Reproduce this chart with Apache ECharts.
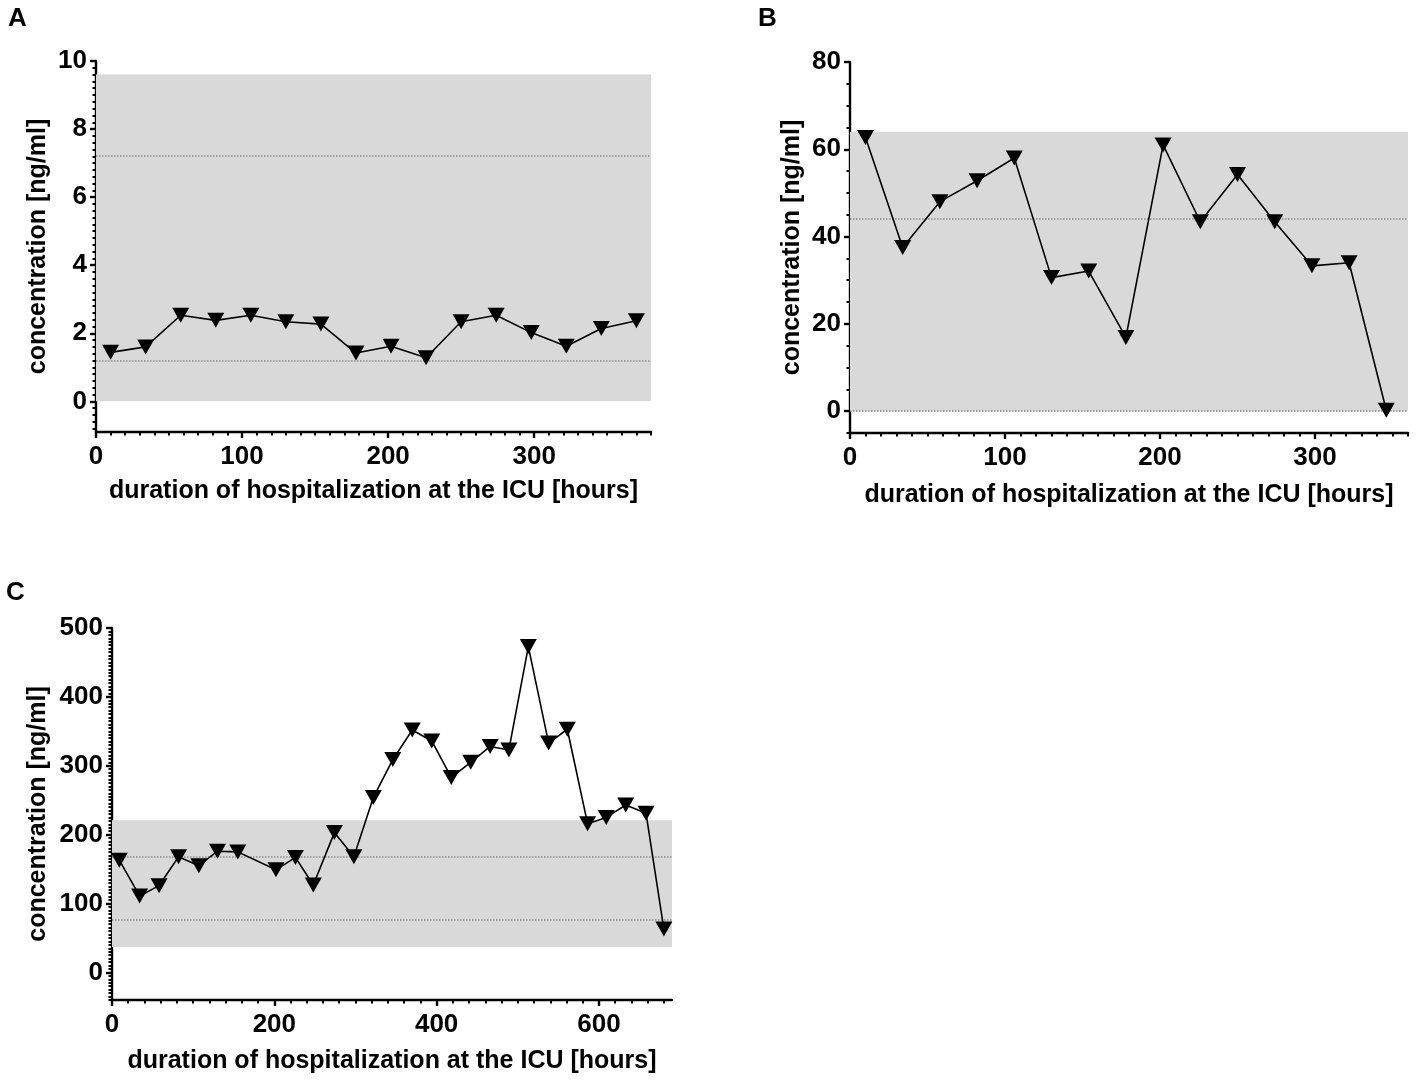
<!DOCTYPE html>
<html>
<head>
<meta charset="utf-8">
<script src="https://cdn.jsdelivr.net/npm/echarts@6/dist/echarts.min.js"></script>
<style>
  html, body { margin: 0; padding: 0; background: #fff; }
  #main { width: 1418px; height: 1083px; }
</style>
</head>
<body>
<div id="main"></div>
<script>
// ---- data ----
// panel A
var aHours = [10, 34, 58, 82, 106, 130, 154, 178, 202, 226, 250, 274, 298, 322, 346, 370];
var aConc  = [1.44, 1.6, 2.53, 2.38, 2.53, 2.34, 2.27, 1.42, 1.62, 1.28, 2.34, 2.53, 2.02, 1.62, 2.14, 2.37];
var aBand  = [0, 9.6];
var aRefLines = [7.22, 1.2];
var aXTicks = [0, 100, 200, 300];
var aYTicks = [0, 2, 4, 6, 8, 10];

// panel B
var bHours = [10, 34, 58, 82, 106, 130, 154, 178, 202, 226, 250, 274, 298, 322, 346];
var bConc  = [62.7, 37.5, 48.0, 52.8, 58.0, 30.6, 32.1, 16.9, 61.0, 43.4, 54.2, 43.4, 33.3, 34.0, 0.2];
var bBand  = [0, 64];
var bRefLines = [44, 0];
var bXTicks = [0, 100, 200, 300];
var bYTicks = [0, 20, 40, 60, 80];

// panel C
var cHours = [9, 34, 58, 82, 107, 130, 155, 202, 226, 248, 274, 298, 322, 346, 370, 394, 418, 442, 466, 489, 513, 538, 561, 586, 609, 633, 658, 680];
var cConc  = [163, 111, 126, 168, 155, 176, 175, 149, 167, 127, 203, 168, 254, 309, 352, 336, 283, 305, 328, 323, 473, 333, 353, 216, 225, 243, 231, 63];
var cBand  = [37, 221];
var cRefLines = [168.5, 76];
var cXTicks = [0, 200, 400, 600];
var cYTicks = [0, 100, 200, 300, 400, 500];

var xTitle = 'duration of hospitalization at the ICU [hours]';
var yTitle = 'concentration [ng/ml]';

// ---- layout ----
var FONT = '"Liberation Sans", Arial, sans-serif';
var panels = [
  {letter: 'A', lx: 8,   ly: 6,   rect: {left: 96,  top: 61,  width: 555, height: 371},
   xs: aHours, ys: aConc, band: aBand, refs: aRefLines, xt: aXTicks, yt: aYTicks,
   xmin: 0, xmax: 380, xminor: 10, ymin: -0.9, ymax: 10, yminor: 0.2, ynameGap: 45, xnameGap: 47},
  {letter: 'B', lx: 758, ly: 6,   rect: {left: 850, top: 62,  width: 558, height: 371},
   xs: bHours, ys: bConc, band: bBand, refs: bRefLines, xt: bXTicks, yt: bYTicks,
   xmin: 0, xmax: 360, xminor: 10, ymin: -5, ymax: 80, yminor: 5, ynameGap: 45, xnameGap: 50},
  {letter: 'C', lx: 6,   ly: 580, rect: {left: 112, top: 628, width: 560, height: 372},
   xs: cHours, ys: cConc, band: cBand, refs: cRefLines, xt: cXTicks, yt: cYTicks,
   xmin: 0, xmax: 690, xminor: 20, ymin: -40, ymax: 500, yminor: 5, ynameGap: 61, xnameGap: 49}
];

function minorValues(min, max, step) {
  var out = [];
  var start = Math.ceil(min / step) * step;
  for (var v = start; v <= max + 1e-9; v += step) {
    out.push(Math.round(v * 1000) / 1000);
  }
  return out;
}

var grid = [], xAxis = [], yAxis = [], series = [], title = [];
var n = panels.length;

panels.forEach(function (p, i) {
  grid.push(Object.assign({}, p.rect));
  title.push({text: p.letter, left: p.lx, top: p.ly, padding: 0,
    textStyle: {fontFamily: FONT, fontWeight: 'bold', fontSize: 26, color: '#000'}});

  xAxis.push({
    type: 'value', gridIndex: i, min: p.xmin, max: p.xmax,
    name: xTitle, nameLocation: 'middle', nameGap: p.xnameGap,
    nameTextStyle: {fontFamily: FONT, fontWeight: 'bold', fontSize: 25, color: '#000'},
    axisLine: {show: true, onZero: false, lineStyle: {color: '#000', width: 2.4}},
    axisTick: {show: true, customValues: p.xt, length: 6, lineStyle: {color: '#000', width: 2.4}},
    axisLabel: {customValues: p.xt, margin: 12, fontFamily: FONT, fontWeight: 'bold', fontSize: 26, color: '#000'},
    splitLine: {show: false}
  });
  yAxis.push({
    type: 'value', gridIndex: i, min: p.ymin, max: p.ymax,
    name: yTitle, nameLocation: 'middle', nameGap: p.ynameGap,
    nameTextStyle: {fontFamily: FONT, fontWeight: 'bold', fontSize: 25, color: '#000'},
    axisLine: {show: true, onZero: false, lineStyle: {color: '#000', width: 2.4}},
    axisTick: {show: true, customValues: p.yt, length: 6, lineStyle: {color: '#000', width: 2.4}},
    axisLabel: {customValues: p.yt, margin: 9, fontFamily: FONT, fontWeight: 'bold', fontSize: 26, color: '#000'},
    splitLine: {show: false}
  });

  var pts = p.xs.map(function (x, k) { return [x, p.ys[k]]; });
  series.push({
    type: 'line', xAxisIndex: i, yAxisIndex: i, data: pts,
    symbol: 'path://M0 0 L16 0 L8 14 Z', symbolSize: [17, 15], symbolKeepAspect: false,
    itemStyle: {color: '#000'},
    lineStyle: {color: '#000', width: 1.6},
    z: 5,
    markArea: {
      silent: true,
      itemStyle: {color: '#d9d9d9'},
      data: [[{yAxis: p.band[0]}, {yAxis: p.band[1]}]]
    },
    markLine: {
      silent: true, symbol: ['none', 'none'], label: {show: false},
      lineStyle: {color: '#8c8c8c', type: 'dotted', width: 1.5},
      data: p.refs.map(function (v) { return {yAxis: v}; })
    }
  });
});

// overlay grids carrying the minor ticks
panels.forEach(function (p, i) {
  grid.push(Object.assign({}, p.rect));
  xAxis.push({
    type: 'value', gridIndex: n + i, min: p.xmin, max: p.xmax,
    axisLine: {show: false, onZero: false}, axisLabel: {show: false}, splitLine: {show: false},
    axisTick: {show: true, customValues: minorValues(p.xmin, p.xmax, p.xminor), length: 3.5,
      lineStyle: {color: '#000', width: 2}}
  });
  yAxis.push({
    type: 'value', gridIndex: n + i, min: p.ymin, max: p.ymax,
    axisLine: {show: false, onZero: false}, axisLabel: {show: false}, splitLine: {show: false},
    axisTick: {show: true, customValues: minorValues(p.ymin, p.ymax, p.yminor), length: 3.5,
      lineStyle: {color: '#000', width: 2}}
  });
});

var option = {
  backgroundColor: '#fff',
  animation: false,
  title: title,
  grid: grid,
  xAxis: xAxis,
  yAxis: yAxis,
  series: series
};

var myChart = echarts.init(document.getElementById('main'));
myChart.setOption(option, true);
</script>
</body>
</html>
